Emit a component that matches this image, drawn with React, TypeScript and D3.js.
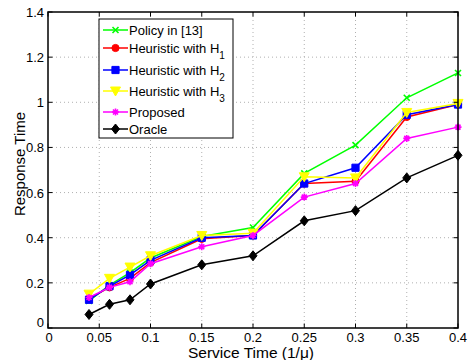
import React, { useRef, useEffect } from 'react';
import * as d3 from 'd3';

const serviceTimes = [0.04, 0.06, 0.08, 0.1, 0.15, 0.2, 0.25, 0.3, 0.35, 0.4];
const policy13 = [0.12, 0.19, 0.245, 0.31, 0.405, 0.445, 0.685, 0.81, 1.02, 1.13];
const heuristicH1 = [0.13, 0.18, 0.22, 0.29, 0.395, 0.41, 0.64, 0.65, 0.935, 0.99];
const heuristicH2 = [0.125, 0.185, 0.235, 0.3, 0.4, 0.41, 0.64, 0.71, 0.945, 0.99];
const heuristicH3 = [0.15, 0.22, 0.27, 0.32, 0.41, 0.42, 0.67, 0.665, 0.955, 0.995];
const proposed = [0.135, 0.18, 0.205, 0.285, 0.36, 0.41, 0.58, 0.64, 0.84, 0.89];
const oracle = [0.06, 0.105, 0.125, 0.195, 0.28, 0.32, 0.475, 0.52, 0.665, 0.765];

const xTicks = [0, 0.05, 0.1, 0.15, 0.2, 0.25, 0.3, 0.35, 0.4];
const yTicks = [0, 0.2, 0.4, 0.6, 0.8, 1, 1.2, 1.4];

type Marker = 'x' | 'circle' | 'square' | 'triangleDown' | 'star' | 'diamond';

interface Series {
  label: string;
  sub?: string;
  values: number[];
  color: string;
  marker: Marker;
}

const series: Series[] = [
  { label: 'Policy in [13]', values: policy13, color: '#00ff00', marker: 'x' },
  { label: 'Heuristic with H', sub: '1', values: heuristicH1, color: '#ff0000', marker: 'circle' },
  { label: 'Heuristic with H', sub: '2', values: heuristicH2, color: '#0000ff', marker: 'square' },
  { label: 'Heuristic with H', sub: '3', values: heuristicH3, color: '#ffff00', marker: 'triangleDown' },
  { label: 'Proposed', values: proposed, color: '#ff00ff', marker: 'star' },
  { label: 'Oracle', values: oracle, color: '#000000', marker: 'diamond' },
];

// marker outline centred on 0,0
function markerPath(m: Marker): string {
  switch (m) {
    case 'x':
      return 'M-3,-3L3,3M-3,3L3,-3';
    case 'circle': {
      const p = d3.path();
      p.arc(0, 0, 3.6, 0, Math.PI * 2);
      return p.toString();
    }
    case 'square':
      return 'M-3.6,-3.6H3.6V3.6H-3.6Z';
    case 'triangleDown':
      return 'M-5,-4H5L0,5Z';
    case 'star':
      return 'M-3.5,0H3.5M0,-3.5V3.5M-2.5,-2.5L2.5,2.5M-2.5,2.5L2.5,-2.5';
    case 'diamond':
      return 'M0,-5L4,0L0,5L-4,0Z';
  }
}

function drawMarker(
  sel: d3.Selection<SVGGElement, unknown, null, undefined>,
  m: Marker,
  color: string,
  x: number,
  y: number
) {
  const stroked = m === 'x' || m === 'star';
  sel
    .append('path')
    .attr('d', markerPath(m))
    .attr('transform', `translate(${x},${y})`)
    .attr('fill', stroked ? 'none' : color)
    .attr('stroke', color)
    .attr('stroke-width', stroked ? 1.6 : 1);
}

const width = 468;
const height = 360;
const plot = { left: 48, right: 458, top: 12, bottom: 328 };
const font = 'Arial, "Liberation Sans", sans-serif';

const App: React.FC = () => {
  const svgRef = useRef<SVGSVGElement>(null);

  useEffect(() => {
    if (!svgRef.current) return;
    const svg = d3.select(svgRef.current);
    svg.selectAll('*').remove();

    svg.append('rect').attr('width', width).attr('height', height).attr('fill', '#fff');

    const x = d3.scaleLinear().domain([0, 0.4]).range([plot.left, plot.right]);
    const y = d3.scaleLinear().domain([0, 1.4]).range([plot.bottom, plot.top]);

    const g = svg.append('g');

    // dotted grid
    g.selectAll('.gx')
      .data(xTicks.slice(1, -1))
      .enter()
      .append('line')
      .attr('x1', d => x(d))
      .attr('x2', d => x(d))
      .attr('y1', plot.top)
      .attr('y2', plot.bottom)
      .attr('stroke', '#b0b0b0')
      .attr('stroke-dasharray', '1,3');
    g.selectAll('.gy')
      .data(yTicks.slice(1, -1))
      .enter()
      .append('line')
      .attr('x1', plot.left)
      .attr('x2', plot.right)
      .attr('y1', d => y(d))
      .attr('y2', d => y(d))
      .attr('stroke', '#b0b0b0')
      .attr('stroke-dasharray', '1,3');

    // series lines and markers
    const line = d3
      .line<number>()
      .x((_, i) => x(serviceTimes[i]))
      .y(d => y(d));
    series.forEach(s => {
      g.append('path')
        .attr('d', line(s.values))
        .attr('fill', 'none')
        .attr('stroke', s.color)
        .attr('stroke-width', 1.5);
      s.values.forEach((v, i) => drawMarker(g, s.marker, s.color, x(serviceTimes[i]), y(v)));
    });

    // box and inward ticks
    g.append('rect')
      .attr('x', plot.left)
      .attr('y', plot.top)
      .attr('width', plot.right - plot.left)
      .attr('height', plot.bottom - plot.top)
      .attr('fill', 'none')
      .attr('stroke', '#000')
      .attr('stroke-width', 1.5);
    const tl = 4.5;
    xTicks.forEach(t => {
      g.append('line').attr('x1', x(t)).attr('x2', x(t)).attr('y1', plot.bottom).attr('y2', plot.bottom - tl).attr('stroke', '#000');
      g.append('line').attr('x1', x(t)).attr('x2', x(t)).attr('y1', plot.top).attr('y2', plot.top + tl).attr('stroke', '#000');
      g.append('text')
        .attr('x', t === 0 ? x(t) + 1 : x(t))
        .attr('y', plot.bottom + 14)
        .attr('text-anchor', 'middle')
        .attr('font-family', font)
        .attr('font-size', 13)
        .text(d3.format('~g')(t));
    });
    yTicks.forEach(t => {
      g.append('line').attr('x1', plot.left).attr('x2', plot.left + tl).attr('y1', y(t)).attr('y2', y(t)).attr('stroke', '#000');
      g.append('line').attr('x1', plot.right).attr('x2', plot.right - tl).attr('y1', y(t)).attr('y2', y(t)).attr('stroke', '#000');
      g.append('text')
        .attr('x', plot.left - 4)
        .attr('y', t === 0 ? y(t) - 1 : y(t) + 5)
        .attr('text-anchor', 'end')
        .attr('font-family', font)
        .attr('font-size', 13)
        .text(d3.format('~g')(t));
    });

    // axis titles
    svg
      .append('text')
      .attr('x', (plot.left + plot.right) / 2 - 2)
      .attr('y', 357.5)
      .attr('text-anchor', 'middle')
      .attr('font-family', font)
      .attr('font-size', 15.5)
      .text('Service Time (1/\u03bc)');
    svg
      .append('text')
      .attr('transform', `translate(25,${(plot.top + plot.bottom) / 2 - 6}) rotate(-90)`)
      .attr('text-anchor', 'middle')
      .attr('font-family', font)
      .attr('font-size', 15)
      .text('Response Time');

    // legend
    const legend = svg.append('g');
    legend
      .append('rect')
      .attr('x', 99)
      .attr('y', 19)
      .attr('width', 134)
      .attr('height', 119)
      .attr('fill', '#fff')
      .attr('stroke', '#000');
    const rowY = [30, 48, 70, 91, 112, 129];
    series.forEach((s, i) => {
      const cy = rowY[i];
      legend.append('line').attr('x1', 103).attr('x2', 128).attr('y1', cy).attr('y2', cy).attr('stroke', s.color).attr('stroke-width', 1.5);
      drawMarker(legend, s.marker, s.color, 115.5, cy);
      const txt = legend
        .append('text')
        .attr('x', 129)
        .attr('y', cy + 5)
        .attr('font-family', font)
        .attr('font-size', 13);
      txt.append('tspan').text(s.label);
      if (s.sub) {
        txt.append('tspan').attr('dy', 6).attr('font-size', 10).text(s.sub);
      }
    });
  }, []);

  return (
    <div>
      <svg ref={svgRef} width={width} height={height} style={{ position: 'absolute', left: 0, top: 0 }} />
    </div>
  );
};

export default App;
